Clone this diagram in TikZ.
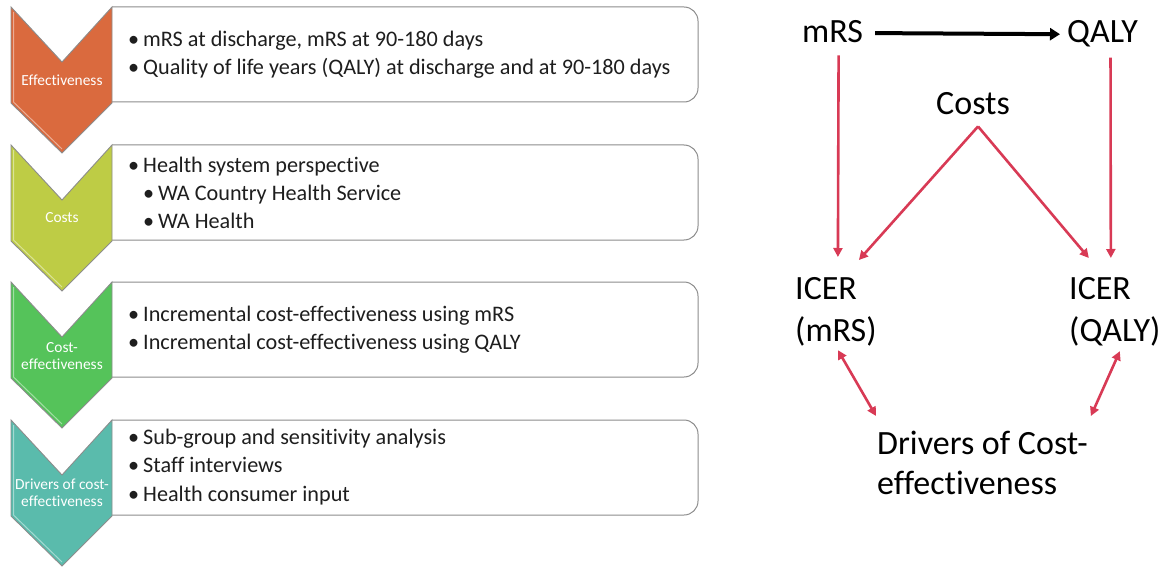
\documentclass[tikz,border=0pt]{standalone}
\usepackage{fontspec}
\setmainfont{Carlito}[Ligatures={NoCommon}]
\usetikzlibrary{arrows.meta}
\definecolor{corange}{HTML}{DA6A3E}
\definecolor{cyellow}{HTML}{BECC45}
\definecolor{cgreen}{HTML}{55C35A}
\definecolor{cteal}{HTML}{5ABBAC}
\definecolor{cred}{HTML}{D83A55}
\definecolor{cedge}{HTML}{8C8C8C}
\definecolor{ctext}{HTML}{1E1E1E}
\tikzset{
  chev/.style={draw=cedge, line width=0.9pt, line join=miter},
  boxpath/.style={draw=cedge, line width=1pt, fill=white, rounded corners=14pt},
  chevlabel/.style={text=white, font=\fontsize{15.4}{17}\selectfont, align=center, inner sep=0pt},
  boxtext/.style={text=ctext, font=\fontsize{22.2}{28.3}\selectfont, align=left, inner sep=0pt, anchor=west},
  bigtext/.style={text=black, font=\fontsize{34}{42}\selectfont, align=left, inner sep=0pt},
  redarrow/.style={draw=cred, line width=2.6pt, -{Triangle[length=9pt,width=9pt]}},
  reddouble/.style={draw=cred, line width=2.6pt, {Triangle[length=9pt,width=9pt]}-{Triangle[length=9pt,width=9pt]}},
  blackarrow/.style={draw=black, line width=4pt, -{Triangle[length=10pt,width=12pt]}},
}
\newcommand{\bul}{\makebox[15pt][l]{\textbullet}}
\newcommand{\subbul}{\hspace*{15pt}\makebox[15pt][l]{\textbullet}}
\begin{document}
\begin{tikzpicture}[x=1pt,y=-1pt]
\useasboundingbox (0,0) rectangle (1167,567);
% boxes and chevrons
\foreach \t/\c in {7/corange,145/cyellow,282/cgreen,420/cteal}{
  \path[boxpath] (112,\t) -- (698,\t) -- (698,\t+95) -- (112,\t+95);
  \path[chev, fill=\c] (11,\t) -- (62,\t+55) -- (112,\t) -- (112,\t+96) -- (62,\t+146) -- (11,\t+96) -- cycle;
  \draw[white, opacity=0.45, line width=1pt] (13.5,\t+5) -- (13.5,\t+95) -- (62,\t+142);
}
\node[chevlabel] (c1) at (62,80) {Effectiveness};
\node[chevlabel] (c2) at (62,218) {Costs};
\node[chevlabel] (c3) at (62,356) {Cost-\\effectiveness};
\node[chevlabel] (c4) at (62,493) {Drivers of cost-\\effectiveness};
\node[boxtext] (b1) at (128,55) {\bul mRS at discharge, mRS at 90-180 days\\\bul Quality of life years (QALY) at discharge and at 90-180 days};
\node[boxtext] (b2) at (128,193) {\bul Health system perspective\\\subbul WA Country Health Service\\\subbul WA Health};
\node[boxtext] (b3) at (128,330) {\bul Incremental cost-effectiveness using mRS\\\bul Incremental cost-effectiveness using QALY};
\node[boxtext] (b4) at (128,467) {\bul Sub-group and sensitivity analysis\\\bul Staff interviews\\\bul Health consumer input};
% right diagram
\node[bigtext, anchor=base west] (mrs) at (802,43) {mRS};
\node[bigtext, anchor=base west] (qaly) at (1067,43) {QALY};
\node[bigtext, anchor=base west] (costs) at (936,115) {Costs};
\node[bigtext, anchor=north west] (icerm) at (795,277) {ICER\\(mRS)};
\node[bigtext, anchor=north west] (icerq) at (1069,277) {ICER\\(QALY)};
\node[bigtext, anchor=north west, font=\fontsize{34}{40}\selectfont] (drv) at (877,431) {Drivers of Cost-\\effectiveness};
\draw[blackarrow] ([shift={(12,1)}]mrs.east) -- ([shift={(-7,0)}]qaly.west);
\draw[redarrow] ([shift={(6,12)}]mrs.south) -- ([shift={(2,-20)}]icerm.north);
\draw[redarrow] ([shift={(8,10)}]qaly.south) -- ([shift={(-4,-19)}]icerq.north);
\draw[redarrow] ([shift={(5,11)}]costs.south) -- ([shift={(23,-17)}]icerm.north);
\draw[redarrow] ([shift={(5,11)}]costs.south) -- ([shift={(-26,-19)}]icerq.north);
\draw[reddouble] ([shift={(2,4)}]icerm.south) -- ([shift={(-1,-15)}]drv.north west);
\draw[reddouble] ([shift={(5,5)}]icerq.south) -- ([shift={(3,-15)}]drv.north east);
\end{tikzpicture}
\end{document}
